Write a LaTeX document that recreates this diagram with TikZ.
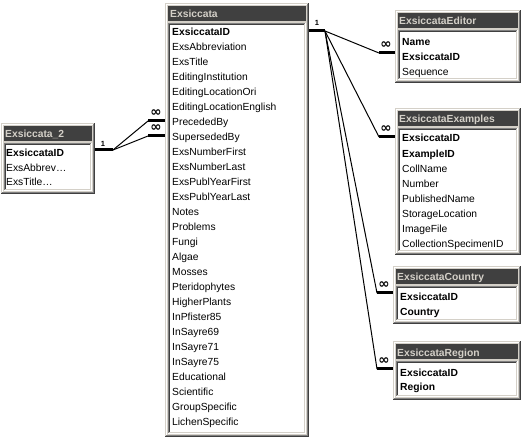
\documentclass[tikz,border=0pt]{standalone}
\usepackage{fontspec}
\setmainfont{Liberation Sans}
\newfontfamily\symfont{DejaVu Sans}
\definecolor{frame}{HTML}{D4D0C8}
\definecolor{dk}{HTML}{404040}
\definecolor{md}{HTML}{808080}
\tikzset{
 rowtxt/.style={anchor=base west, inner sep=0, font=\fontsize{10.3}{12}\selectfont},
 rowbold/.style={anchor=base west, inner sep=0, font=\fontsize{10.3}{12}\selectfont\bfseries},
 titletxt/.style={anchor=base west, inner sep=0, text=frame, font=\fontsize{10.3}{12}\selectfont\bfseries},
 link/.style={line width=1pt, black},
 bar/.style={line width=3pt, black},
 one/.style={font=\fontsize{7.5}{8}\selectfont\bfseries, inner sep=0},
 many/.style={font=\symfont\bfseries\fontsize{13.5}{13.5}\selectfont, inner sep=0},
}
% #1 name, #2 x1, #3 y1, #4 x2, #5 y2
\newcommand\dbwin[5]{%
 \fill[frame] (#2,#3) rectangle (#4,#5);
 \draw[white] (#2+1.5,#5-1.5) -- (#2+1.5,#3+1.5) -- (#4-1.5,#3+1.5);
 \draw[dk] (#2,#5-0.5) -- (#4-0.5,#5-0.5) -- (#4-0.5,#3);
 \draw[md] (#2+1,#5-1.5) -- (#4-1.5,#5-1.5) -- (#4-1.5,#3+1);
 \fill[dk] (#2+3,#3+3) rectangle (#4-3,#3+18);
 \fill[white] (#2+3,#3+20) rectangle (#4-3,#5-3);
 \draw[md] (#2+3.5,#5-3) -- (#2+3.5,#3+20.5) -- (#4-3,#3+20.5);
 \draw[dk] (#2+4.5,#5-4) -- (#2+4.5,#3+21.5) -- (#4-4,#3+21.5);
 \draw[white] (#2+3,#5-3.5) -- (#4-3.5,#5-3.5) -- (#4-3.5,#3+20);
 \draw[frame] (#2+4,#5-4.5) -- (#4-4.5,#5-4.5) -- (#4-4.5,#3+21);
 \coordinate (#1) at (#2,#3);
}
\begin{document}
\begin{tikzpicture}[x=1pt,y=-1pt]
\useasboundingbox[fill=white] (0,0) rectangle (523,438);

% ---------- Exsiccata ----------
\dbwin{exs}{165}{3}{309}{437}
\node[titletxt] (exs-t) at (170,18) {Exsiccata};
\node[rowbold] (exs-r0) at (172,36) {ExsiccataID};
\foreach \t [count=\i] in {ExsAbbreviation,ExsTitle,EditingInstitution,EditingLocationOri,EditingLocationEnglish,PrecededBy,SupersededBy,ExsNumberFirst,ExsNumberLast,ExsPublYearFirst,ExsPublYearLast,Notes,Problems,Fungi,Algae,Mosses,Pteridophytes,HigherPlants,InPfister85,InSayre69,InSayre71,InSayre75,Educational,Scientific,GroupSpecific,LichenSpecific}
  \node[rowtxt] (exs-r\i) at (172,36+15*\i) {\t};

% ---------- Exsiccata_2 ----------
\dbwin{ex2}{1}{123}{95}{194}
\node[titletxt] (ex2-t) at (5,137.5) {Exsiccata\_2};
\node[rowbold] (ex2-r0) at (6,157) {ExsiccataID};
\node[rowtxt] (ex2-r1) at (6,171.5) {ExsAbbrev…};
\node[rowtxt] (ex2-r2) at (6,186) {ExsTitle…};

% ---------- ExsiccataEditor ----------
\dbwin{edt}{395}{10}{521}{83}
\node[titletxt] (edt-t) at (399,24.5) {ExsiccataEditor};
\node[rowbold] (edt-r0) at (402,45.5) {Name};
\node[rowbold] (edt-r1) at (402,60.5) {ExsiccataID};
\node[rowtxt] (edt-r2) at (402,75.5) {Sequence};

% ---------- ExsiccataExamples ----------
\dbwin{exm}{395}{108}{521}{255}
\node[titletxt] (exm-t) at (399,122.5) {ExsiccataExamples};
\node[rowbold] (exm-r0) at (402,142) {ExsiccataID};
\node[rowbold] (exm-r1) at (402,157.1) {ExampleID};
\foreach \t [count=\i from 2] in {CollName,Number,PublishedName,StorageLocation,ImageFile,CollectionSpecimenID}
  \node[rowtxt] (exm-r\i) at (402,142+15.1*\i) {\t};

% ---------- ExsiccataCountry ----------
\dbwin{cty}{393}{266}{521}{324}
\node[titletxt] (cty-t) at (397,281) {ExsiccataCountry};
\node[rowbold] (cty-r0) at (400,301) {ExsiccataID};
\node[rowbold] (cty-r1) at (400,316) {Country};

% ---------- ExsiccataRegion ----------
\dbwin{reg}{393}{341}{521}{400}
\node[titletxt] (reg-t) at (397,356.5) {ExsiccataRegion};
\node[rowbold] (reg-r0) at (400,376.5) {ExsiccataID};
\node[rowbold] (reg-r1) at (400,391) {Region};

% ---------- connectors left ----------
\coordinate (la) at (95,150);
\coordinate (lb) at (113,150);
\coordinate (lp1) at (148,121);
\coordinate (lp1e) at (165,121);
\coordinate (lp2) at (148,136);
\coordinate (lp2e) at (165,136);
\draw[bar] (la) -- (lb);
\draw[link] (lb) -- (lp1);
\draw[link] (lb) -- (lp2);
\draw[bar] (lp1) -- (lp1e);
\draw[bar] (lp2) -- (lp2e);
\node[one] (l1) at (103,144) {1};
\node[many] (lm1) at (156,113.5) {∞};
\node[many] (lm2) at (156,128.5) {∞};

% ---------- connectors right ----------
\coordinate (ra) at (309,31);
\coordinate (rb) at (325,31);
\coordinate (p1) at (379,53);
\coordinate (p1e) at (395,53);
\coordinate (p2) at (379,137);
\coordinate (p2e) at (395,137);
\coordinate (p3) at (377,293);
\coordinate (p3e) at (393,293);
\coordinate (p4) at (377,369);
\coordinate (p4e) at (393,369);
\draw[bar] (ra) -- (rb);
\foreach \p in {p1,p2,p3,p4} \draw[link] (rb) -- (\p);
\foreach \p in {p1,p2,p3,p4} \draw[bar] (\p) -- (\p e);
\node[one] (r1) at (317,23) {1};
\node[many] (rm1) at (386,45.5) {∞};
\node[many] (rm2) at (386,129.5) {∞};
\node[many] (rm3) at (384,285.5) {∞};
\node[many] (rm4) at (384,361.5) {∞};
\end{tikzpicture}
\end{document}
